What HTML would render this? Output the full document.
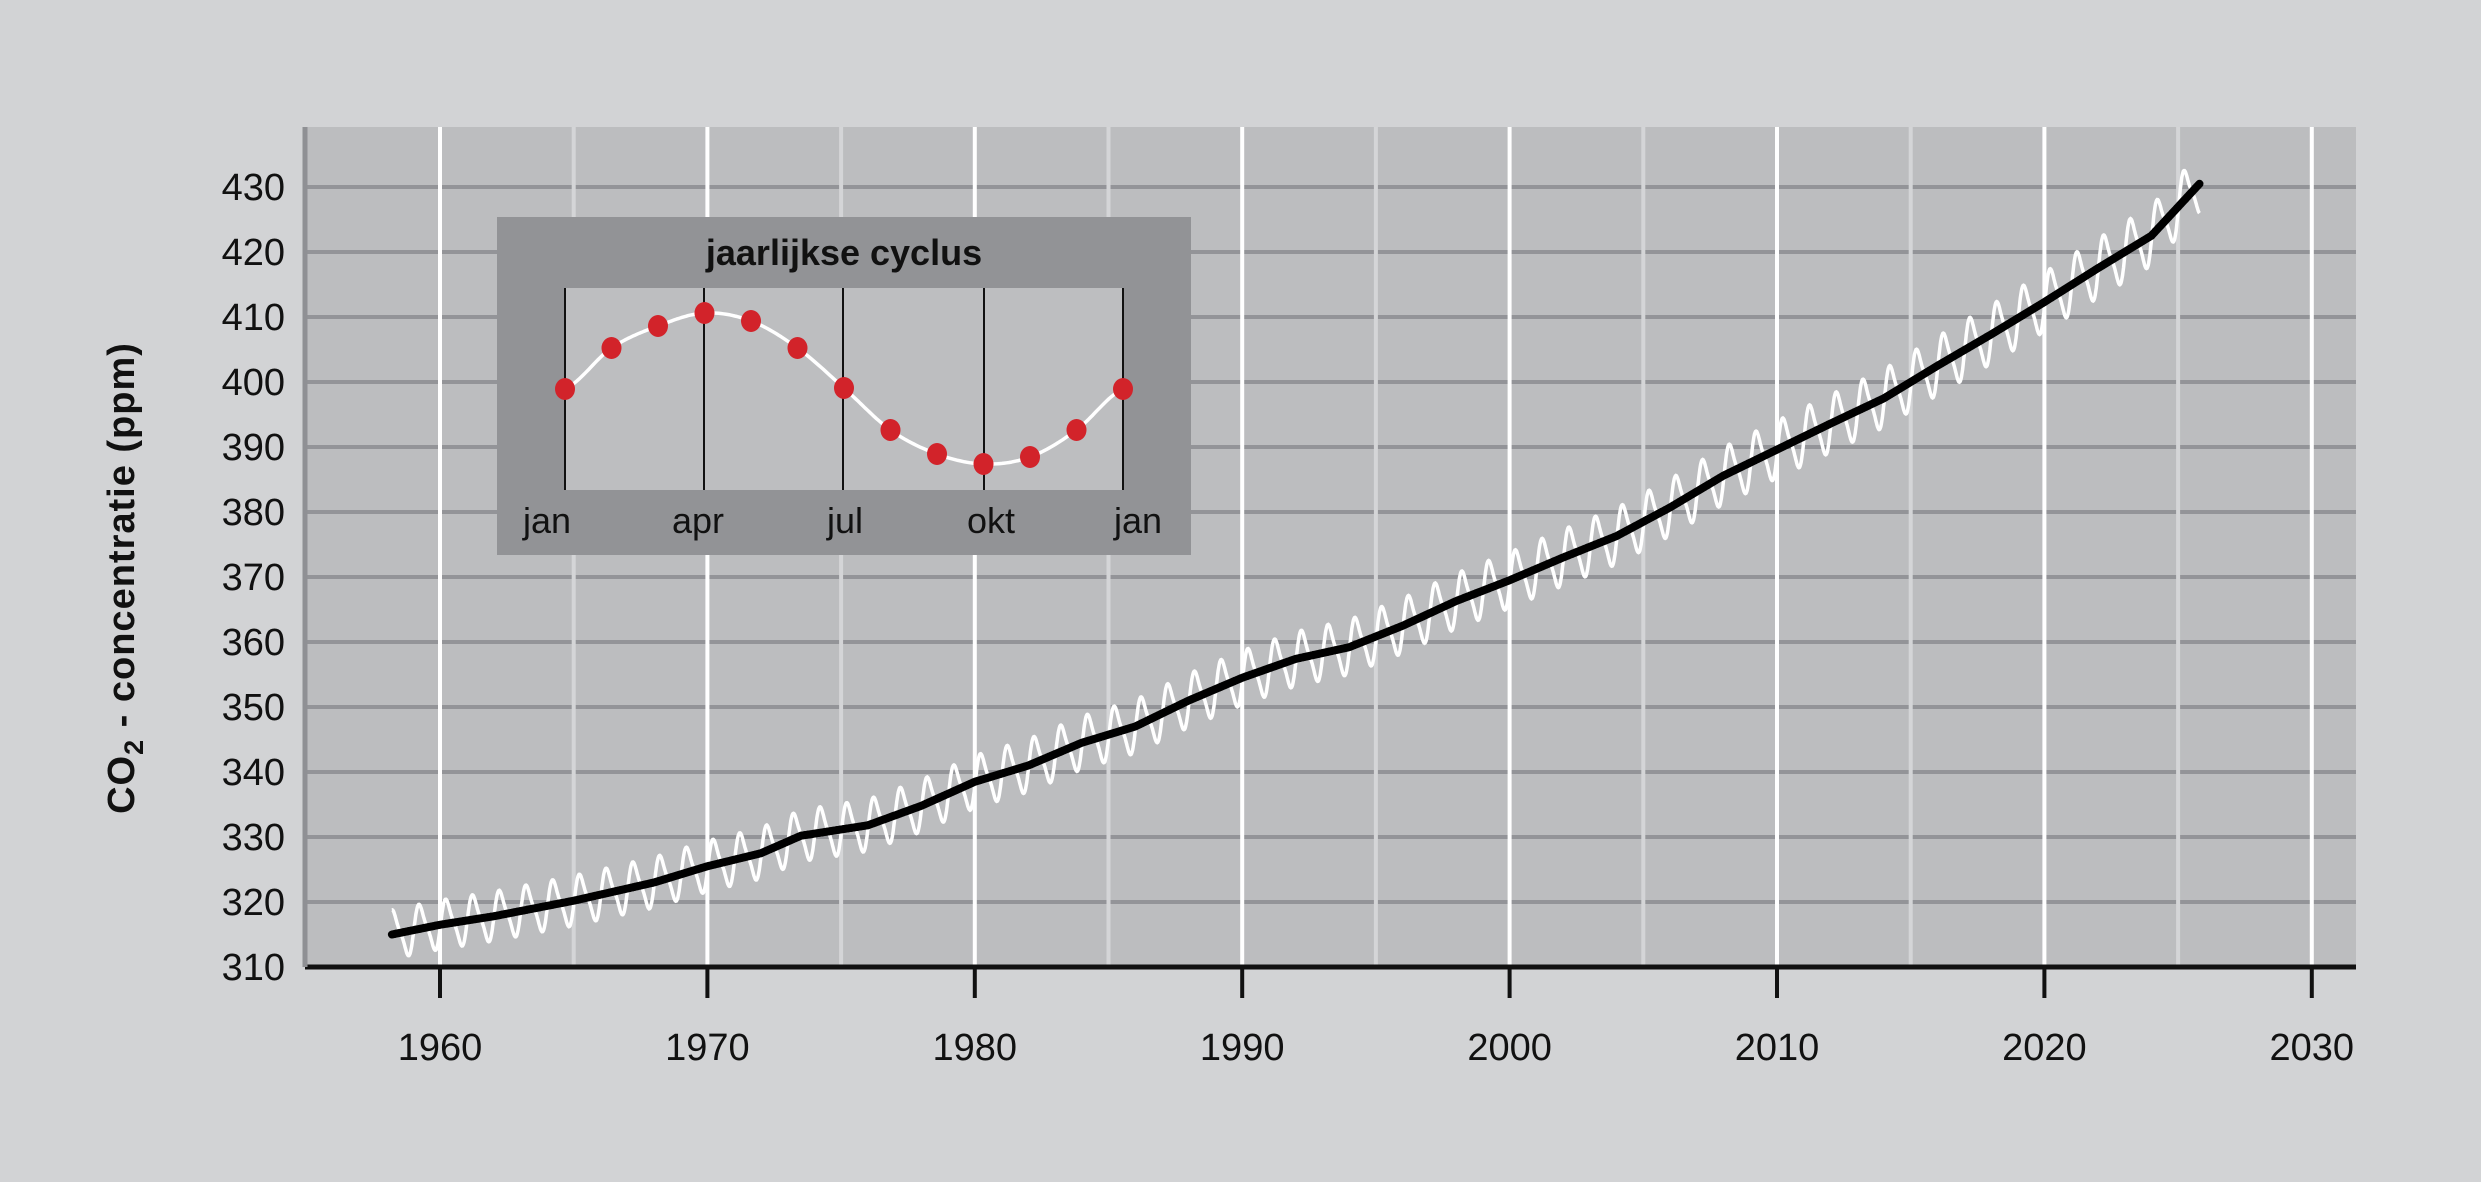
<!DOCTYPE html>
<html><head><meta charset="utf-8"><style>
html,body{margin:0;padding:0;background:#d2d3d5;}
svg{display:block;font-family:"Liberation Sans","DejaVu Sans",sans-serif;}
</style></head><body>
<svg id="s" width="2481" height="1182" viewBox="0 0 2481 1182" xmlns="http://www.w3.org/2000/svg">
<rect width="2481" height="1182" fill="#d2d3d5"/>
<rect x="305" y="127" width="2051" height="840" fill="#bcbdbf"/>
<g id="grid"></g>
<g id="ylab" font-size="38" fill="#111" text-anchor="end"></g>
<g id="xlab" font-size="38" fill="#111" text-anchor="middle"></g>
<text transform="translate(134,578) rotate(-90)" font-size="38" font-weight="bold" text-anchor="middle" fill="#111" letter-spacing="1">CO<tspan font-size="27" dy="9">2</tspan><tspan dy="-9"> - concentratie (ppm)</tspan></text>
<path id="white" fill="none" stroke="#fff" stroke-width="3.5"/>
<path id="black" fill="none" stroke="#000" stroke-width="8" stroke-linecap="round" stroke-linejoin="round"/>
<line x1="305" y1="967" x2="2356" y2="967" stroke="#111" stroke-width="5"/>
<line x1="305" y1="127" x2="305" y2="967" stroke="#8f9094" stroke-width="5"/>
<g id="inset">
<rect x="497" y="217" width="694" height="338" fill="#929396"/>
<rect x="565" y="288" width="558" height="202" fill="#bdbec0"/>
<text x="844" y="265" font-size="36" font-weight="bold" text-anchor="middle" fill="#111">jaarlijkse cyclus</text>
</g>
</svg>
<script>
var NS="http://www.w3.org/2000/svg";
function el(p,t,a){var e=document.createElementNS(NS,t);for(var k in a)e.setAttribute(k,a[k]);p.appendChild(e);return e;}
var g=document.getElementById('grid');
function X(y){return 440+(y-1960)*26.74;}
function Y(v){return 967-(v-310)*6.5;}
for(var v=320;v<=430;v+=10){el(g,'line',{x1:305,x2:2356,y1:Y(v),y2:Y(v),stroke:'#939498','stroke-width':4});}
for(var y=1955;y<=2030;y+=5){if(y<1957)continue;var dec=y%10==0;
 el(g,'line',{x1:X(y),x2:X(y),y1:127,y2:967,stroke:dec?'#ffffff':'#d4d5d7','stroke-width':4});}
var yl=document.getElementById('ylab');
for(var v=310;v<=430;v+=10){var t=el(yl,'text',{x:285,y:Y(v)+13});t.textContent=v;}
var xl=document.getElementById('xlab');
for(var y=1960;y<=2030;y+=10){var t=el(xl,'text',{x:X(y),y:1060});t.textContent=y;
 el(g.parentNode,'line',{x1:X(y),x2:X(y),y1:967,y2:998,stroke:'#111','stroke-width':4});}
var pts=[[1958.2,315],[1960,316.5],[1962,317.8],[1965,320.2],[1968,323],[1970,325.5],[1972,327.5],[1973.5,330.2],[1976,331.8],[1978,334.8],[1980,338.5],[1982,341],[1984,344.5],[1986,347],[1988,351],[1990,354.5],[1992,357.4],[1994,359.2],[1996,362.5],[1998,366.3],[2000,369.5],[2002,373],[2004,376.3],[2006,380.7],[2008,385.6],[2010,389.6],[2012,393.6],[2014,397.5],[2016,402.5],[2018,407.3],[2020,412.3],[2022,417.5],[2024,422.5],[2025.8,430.5]];
function tr(t){for(var i=0;i<pts.length-1;i++){if(t<=pts[i+1][0]){var a=pts[i],b=pts[i+1];return a[1]+(b[1]-a[1])*(t-a[0])/(b[0]-a[0]);}}return pts[pts.length-1][1];}
var db='',dw='';
for(var t=1958.2;t<=2025.8;t+=0.02){var v=tr(t);db+=(db?'L':'M')+X(t).toFixed(1)+','+Y(v).toFixed(1);
 var ph=t-Math.floor(t);var A=3.6+(t-1958)*0.012;var s=Math.sin(2*Math.PI*(ph-0.02))+0.25*Math.sin(4*Math.PI*(ph-0.02));
 dw+=(dw?'L':'M')+X(t).toFixed(1)+','+Y(v+A*s/1.05).toFixed(1);}
document.getElementById('black').setAttribute('d',db);
document.getElementById('white').setAttribute('d',dw);
var ins=document.getElementById('inset');
var mx=[565,704,843,984,1123],ml=['jan','apr','jul','okt','jan'],lx=[547,698,845,991,1138];
for(var i=0;i<5;i++){el(ins,'line',{x1:mx[i],x2:mx[i],y1:288,y2:490,stroke:'#111','stroke-width':2});
 var t=el(ins,'text',{x:lx[i],y:533,'font-size':36,'text-anchor':'middle',fill:'#111'});t.textContent=ml[i];}
var d='';for(var k=0;k<=120;k++){var f=k/120;var x=565+f*558;var y=388-75*Math.sin(2*Math.PI*(f-0.0))*1+0*f;
 y=389-76*Math.sin(2*Math.PI*f)-14*Math.sin(4*Math.PI*f)*0;d+=(k?'L':'M')+x.toFixed(1)+','+y.toFixed(1);}
var dy=[389,348,326,313,321,348,388,430,454,464,457,430,389];
d='';for(var k=0;k<=240;k++){var f=k/240*12;var i=Math.min(11,Math.floor(f));var u=f-i;
 var p0=dy[Math.max(0,i-1)],p1=dy[i],p2=dy[i+1],p3=dy[Math.min(12,i+2)];
 var y=0.5*((2*p1)+(-p0+p2)*u+(2*p0-5*p1+4*p2-p3)*u*u+(-p0+3*p1-3*p2+p3)*u*u*u);
 d+=(k?'L':'M')+(565+f*46.5).toFixed(1)+','+y.toFixed(1);}
el(ins,'path',{d:d,fill:'none',stroke:'#fff','stroke-width':3.5,'stroke-linejoin':'round'});
for(var i=0;i<13;i++){el(ins,'ellipse',{cx:565+i*46.5,cy:dy[i],rx:10,ry:11,fill:'#d2232a'});}
</script>
</body></html>
